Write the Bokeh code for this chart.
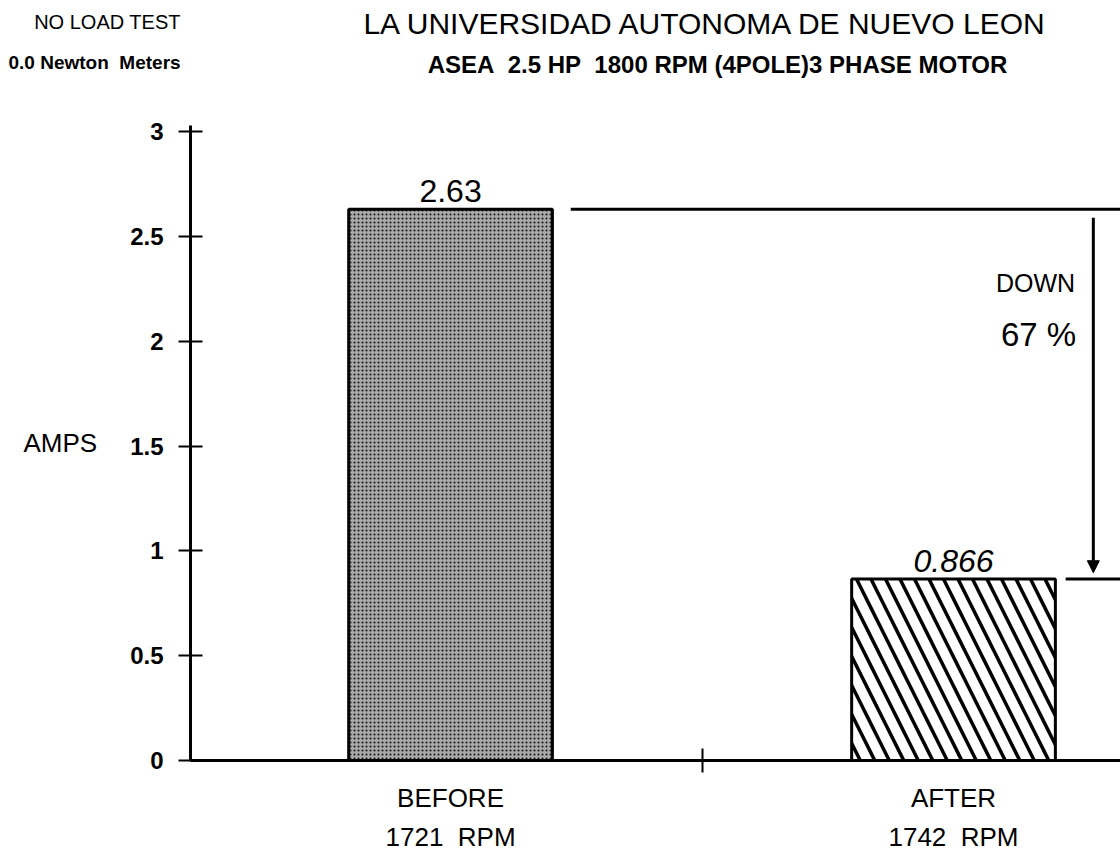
from bokeh.plotting import figure
from bokeh.layouts import column
from bokeh.models import (Range1d, FixedTicker, ColumnDataSource, LabelSet, Label,
                          Arrow, NormalHead, LinearAxis)
from bokeh.embed import file_html
from bokeh.resources import INLINE
from bokeh.core.properties import value

# ---- data ----
categories = ["BEFORE", "AFTER"]
rpm_labels = ["1721\u00a0 RPM", "1742\u00a0 RPM"]
amps = [2.63, 0.866]
amp_labels = ["2.63", "0.866"]
y_ticks = [0, 0.5, 1, 1.5, 2, 2.5, 3]
y_tick_labels = ["0", "0.5", "1", "1.5", "2", "2.5", "3"]
drop_label = "67 %"

FONT = "Liberation Sans"
xpos = [0, 1]

# ---------- header (title block) ----------
head = figure(width=1120, height=100, output_backend="svg", toolbar_location=None,
              x_range=Range1d(0, 1120), y_range=Range1d(100, 0),
              x_axis_location=None, y_axis_location=None,
              min_border=0, outline_line_color=None)
head.grid.visible = False
head.frame_align = False

def hlab(x, y, t, size, style="normal", align="center"):
    head.add_layout(Label(x=x, y=y, text=t, text_align=align, text_baseline="middle",
                          text_font=FONT, text_font_size=size, text_font_style=style,
                          text_color="black"))

hlab(107, 21, "NO LOAD TEST", "20px")
hlab(8, 62, "0.0 Newton\u00a0 Meters", "19px", "bold", "left")
hlab(706, 23, "LA UNIVERSIDAD AUTONOMA DE NUEVO LEON", "30px")
hlab(717, 64, "ASEA\u00a0 2.5 HP\u00a0 1800 RPM (4POLE)3 PHASE MOTOR", "24px", "bold")

# ---------- main chart ----------
p = figure(width=1120, height=754, output_backend="svg", toolbar_location=None,
           x_range=Range1d(-0.517, 1.332), y_range=Range1d(0, 3.03),
           min_border_left=190, min_border_top=25, min_border_bottom=83,
           min_border_right=0, outline_line_color=None)
p.grid.visible = False
p.frame_align = False

src_before = ColumnDataSource(dict(x=[xpos[0]], top=[amps[0]]))
src_after = ColumnDataSource(dict(x=[xpos[1]], top=[amps[1]]))
p.vbar(x="x", top="top", bottom=0, width=0.405, source=src_before,
       fill_color="#a8a8a8", line_color="black", line_width=3,
       hatch_pattern="dot", hatch_color="#111111", hatch_scale=4, hatch_weight=1.3)
p.vbar(x="x", top="top", bottom=0, width=0.405, source=src_after,
       fill_color="white", line_color="black", line_width=3,
       hatch_pattern="left_diagonal_line", hatch_color="black", hatch_scale=29,
       hatch_weight=3.5)

# y axis
yax = p.yaxis[0]
yax.ticker = FixedTicker(ticks=y_ticks)
yax.major_label_overrides = dict(zip(y_ticks, y_tick_labels))
yax.axis_line_width = 3
yax.major_tick_line_width = 2
yax.major_tick_in = 12
yax.major_tick_out = 12
yax.minor_tick_line_color = None
yax.major_label_standoff = 15
yax.major_label_text_font = FONT
yax.major_label_text_font_style = "bold"
yax.major_label_text_font_size = "24px"
yax.major_label_text_color = "black"
yax.axis_label = "AMPS"
yax.axis_label_orientation = "horizontal"
yax.axis_label_standoff = 30
yax.axis_label_text_font = FONT
yax.axis_label_text_font_style = "normal"
yax.axis_label_text_font_size = "26px"
yax.axis_label_text_color = "black"

# x axis: category names + divider tick (minor tick at 0.5)
xax = p.xaxis[0]
xax.ticker = FixedTicker(ticks=xpos, minor_ticks=[0.5])
xax.major_label_overrides = dict(zip(xpos, categories))
xax.axis_line_width = 3
xax.major_tick_line_color = None
xax.major_tick_in = 0
xax.major_tick_out = 0
xax.minor_tick_line_width = 2
xax.minor_tick_line_color = "black"
xax.minor_tick_in = 12
xax.minor_tick_out = 12
xax.major_label_standoff = 10
xax.major_label_text_font = FONT
xax.major_label_text_font_size = "26px"
xax.major_label_text_color = "black"

# second row of x labels (RPM)
xax2 = LinearAxis(ticker=FixedTicker(ticks=xpos), axis_line_color=None,
                  major_tick_line_color=None, minor_tick_line_color=None,
                  major_tick_in=0, major_tick_out=0,
                  major_label_overrides=dict(zip(xpos, rpm_labels)),
                  major_label_standoff=6, major_label_text_font=FONT,
                  major_label_text_font_size="26px", major_label_text_color="black")
p.add_layout(xax2, "below")

# value labels
vsrc = ColumnDataSource(dict(x=xpos, y=amps, t=amp_labels, st=["normal", "italic"]))
p.add_layout(LabelSet(x="x", y="y", text="t", source=vsrc, text_align="center",
                      text_baseline="bottom", y_offset=7, text_font=value(FONT),
                      text_font_size="32px", text_font_style="st", text_color="black"))

# reference lines and arrow
p.segment(x0=[0.239], y0=[amps[0]], x1=[1.332], y1=[amps[0]], line_color="black", line_width=3)
p.segment(x0=[1.223], y0=[amps[1]], x1=[1.332], y1=[amps[1]], line_color="black", line_width=3)
p.add_layout(Arrow(end=NormalHead(size=12, fill_color="black", line_color="black"),
                   x_start=1.278, y_start=amps[0] - 0.04, x_end=1.278, y_end=amps[1] + 0.03,
                   line_color="black", line_width=3))

def lab(x, y, t, size, style="normal"):
    p.add_layout(Label(x=x, y=y, text=t, text_align="center", text_baseline="middle",
                       text_font=FONT, text_font_size=size, text_font_style=style,
                       text_color="black"))

lab(1.163, 2.277, "DOWN", "25px")
lab(1.169, 2.033, drop_label, "33px")

layout = column(head, p)
open("out.html", "w").write(file_html(layout, INLINE))
